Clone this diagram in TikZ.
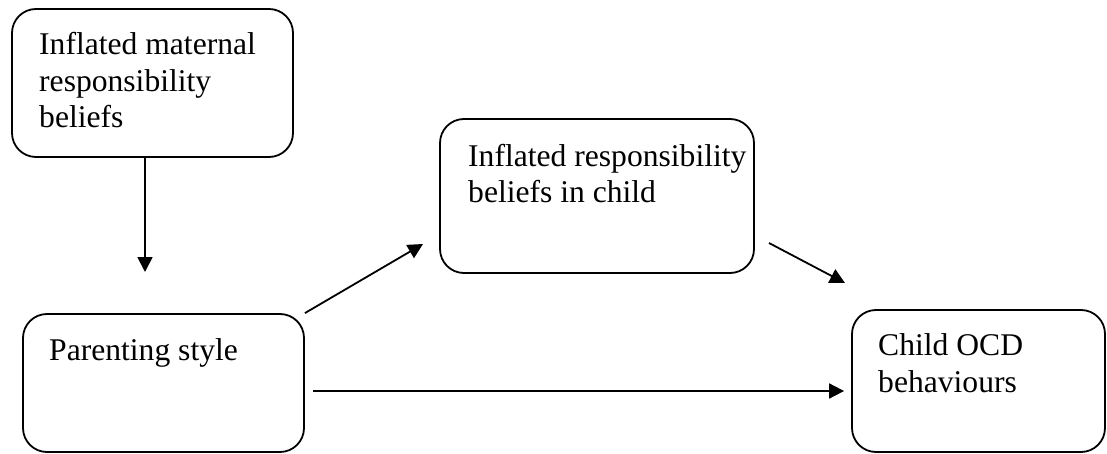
\documentclass[tikz,border=0pt]{standalone}
\usepackage{fontspec}
\setmainfont{Liberation Serif}
\usepackage{tikz}
\usetikzlibrary{arrows.meta,positioning,calc}

\begin{document}
\begin{tikzpicture}[
      x=1pt, y=-1pt,
      box/.style={draw=black, line width=1.8pt, rounded corners=24pt, inner sep=0pt},
      txt/.style={anchor=base west, align=left, inner sep=0pt, font=\fontsize{31.6}{36.8}\selectfont},
      arr/.style={line width=1.8pt, -{Triangle[length=15pt,width=15pt]}}
    ]
      \useasboundingbox (0,0) rectangle (1107,454);

      % boxes
      \node[box, minimum width=281pt, minimum height=148pt] (mat) at (152.5,83) {};
      \node[box, minimum width=314pt, minimum height=154pt] (child) at (597,196) {};
      \node[box, minimum width=281pt, minimum height=138pt] (par) at (163.5,383) {};
      \node[box, minimum width=253pt, minimum height=142pt] (ocd) at (978.5,381) {};

      % text sits on its last line
      \node[txt] (mattext) at (39,128) {Inflated maternal\\responsibility\\beliefs};
      \node[txt] (childtext) at (468,203) {Inflated responsibility\\beliefs in child};
      \node[txt] (partext) at (49,360) {Parenting style};
      \node[txt] (ocdtext) at (878,392) {Child OCD\\behaviours};

      % free arrow ends
      \coordinate (parin) at (145,272);
      \coordinate (childin) at (423,244);
      \coordinate (childout) at (769,243);
      \coordinate (ocdin) at (845,283);

      \draw[arr] (mat.south -| parin) -- (parin);
      \draw[arr] (par.north east) -- (childin);
      \draw[arr] (childout) -- (ocdin);
      \draw[arr] ([shift={(8,8)}]par.east) -- ([shift={(-7,10)}]ocd.west);
    \end{tikzpicture}
\end{document}
